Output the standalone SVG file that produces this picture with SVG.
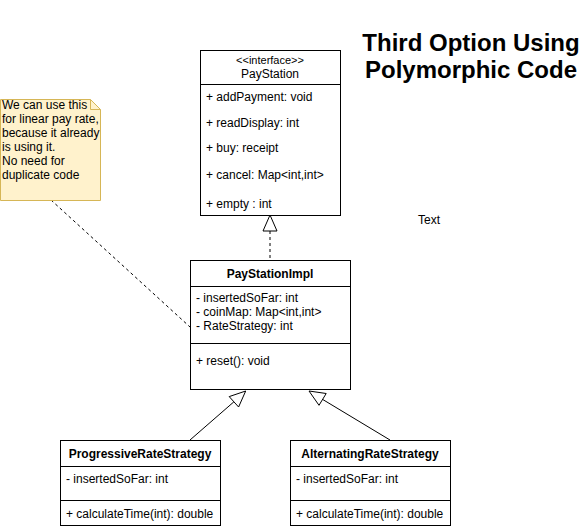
<svg xmlns="http://www.w3.org/2000/svg" width="582" height="530" viewBox="0 0 582 530">
<style>
.box{fill:#ffffff;stroke:#000000;stroke-width:1}
.ln{stroke:#000000;stroke-width:1;fill:none}
.t{font-family:"Liberation Sans",Arial,Helvetica,sans-serif;font-size:12px;fill:#000000}
.b{font-weight:bold;text-anchor:middle}
.c{text-anchor:middle}
.title{font-family:"Liberation Sans",Arial,Helvetica,sans-serif;font-size:24px;font-weight:bold;text-anchor:middle;fill:#000000}
.tri{fill:#ffffff;stroke:#000000;stroke-width:1}
</style>
<rect width="582" height="530" fill="#ffffff"/>
<g id="connectors">
  <line class="ln" x1="270" y1="231" x2="270" y2="260" stroke-dasharray="3 3"/>
  <polygon class="tri" points="270,215 263,231 277,231"/>
  <line class="ln" x1="51" y1="200" x2="190" y2="327" stroke-dasharray="3 3"/>
  <line class="ln" x1="190" y1="440" x2="233.9" y2="401.8"/>
  <polygon class="tri" points="245.7,391 229.2,396.6 238.6,407"/>
  <line class="ln" x1="390" y1="440" x2="322.6" y2="399.4"/>
  <polygon class="tri" points="309,391 326.2,393.5 319,405.3"/>
</g>
<g id="title">
  <text class="title" x="471" y="51">Third Option Using</text>
  <text class="title" x="471" y="78">Polymorphic Code</text>
</g>
<g id="textlabel">
  <text class="t c" x="429" y="224" fill="#000000">Text</text>
</g>
<g id="note">
  <path d="M0.5,99.5 H90.5 L100.5,109.5 V200.5 H0.5 Z" fill="#fff2cc" stroke="#d6b656"/>
  <path d="M90.5,99.5 V109.5 H100.5" fill="none" stroke="#d6b656"/>
  <text class="t" x="2" y="109">We can use this</text>
  <text class="t" x="2" y="123">for linear pay rate,</text>
  <text class="t" x="2" y="137">because it already</text>
  <text class="t" x="2" y="151">is using it.</text>
  <text class="t" x="2" y="165">No need for</text>
  <text class="t" x="2" y="179">duplicate code</text>
</g>
<g id="PayStation">
  <rect class="box" x="200.5" y="50.5" width="140" height="165"/>
  <line class="ln" x1="200.5" y1="84.5" x2="340.5" y2="84.5"/>
  <text class="t c" x="270" y="64" style="font-size:11px">&lt;&lt;interface&gt;&gt;</text>
  <text class="t c" x="270" y="78">PayStation</text>
  <text class="t" x="206" y="101">+ addPayment: void</text>
  <text class="t" x="206" y="127">+ readDisplay: int</text>
  <text class="t" x="206" y="152">+ buy: receipt</text>
  <text class="t" x="206" y="179">+ cancel: Map&lt;int,int&gt;</text>
  <text class="t" x="206" y="208">+ empty : int</text>
</g>
<g id="PayStationImpl">
  <rect class="box" x="190.5" y="260.5" width="160" height="129"/>
  <line class="ln" x1="190.5" y1="286.5" x2="350.5" y2="286.5"/>
  <line class="ln" x1="190.5" y1="343.5" x2="350.5" y2="343.5"/>
  <text class="t b" x="270" y="278">PayStationImpl</text>
  <text class="t" x="196" y="302">- insertedSoFar: int</text>
  <text class="t" x="196" y="316">- coinMap: Map&lt;int,int&gt;</text>
  <text class="t" x="196" y="330">- RateStrategy: int</text>
  <text class="t" x="196" y="365">+ reset(): void</text>
</g>
<g id="ProgressiveRateStrategy">
  <rect class="box" x="60.5" y="440.5" width="160" height="85"/>
  <line class="ln" x1="60.5" y1="466.5" x2="220.5" y2="466.5"/>
  <line class="ln" x1="60.5" y1="500.5" x2="220.5" y2="500.5"/>
  <text class="t b" x="140" y="458">ProgressiveRateStrategy</text>
  <text class="t" x="66" y="483">- insertedSoFar: int</text>
  <text class="t" x="66" y="518">+ calculateTime(int): double</text>
</g>
<g id="AlternatingRateStrategy">
  <rect class="box" x="290.5" y="440.5" width="160" height="85"/>
  <line class="ln" x1="290.5" y1="466.5" x2="450.5" y2="466.5"/>
  <line class="ln" x1="290.5" y1="500.5" x2="450.5" y2="500.5"/>
  <text class="t b" x="370" y="458">AlternatingRateStrategy</text>
  <text class="t" x="296" y="483">- insertedSoFar: int</text>
  <text class="t" x="296" y="518">+ calculateTime(int): double</text>
</g>
</svg>
